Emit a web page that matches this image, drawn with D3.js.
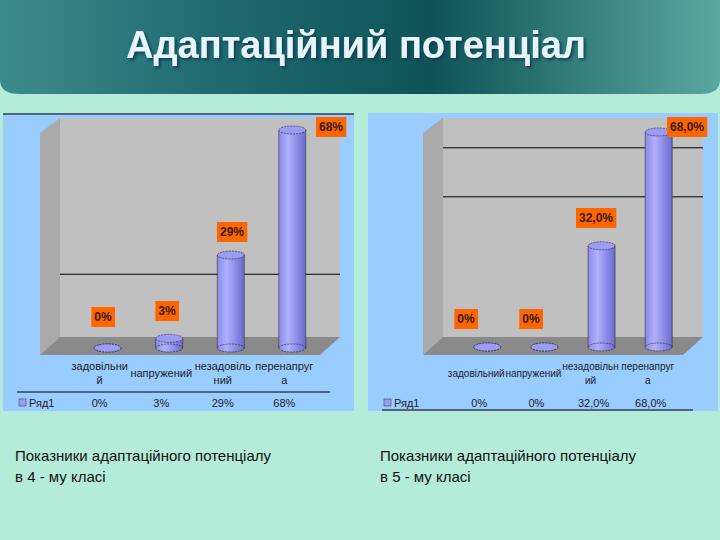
<!DOCTYPE html>
<html><head><meta charset="utf-8">
<script src="https://cdn.jsdelivr.net/npm/d3@7"></script>
<style>body{margin:0;background:#b4ecd9}</style>
</head><body>
<script>
const labels4 = [["задовільни","й"], ["напружений"], ["незадовіль","ний"], ["перенапруг","а"]];
const values4 = [0, 3, 29, 68];
const text4 = ["0%", "3%", "29%", "68%"];
const labels5 = [["задовільний"], ["напружений"], ["незадовільн","ий"], ["перенапруг","а"]];
const values5 = [0, 0, 32, 68];
const text5 = ["0%", "0%", "32,0%", "68,0%"];

const svg = d3.select("body").append("svg").attr("width", 720).attr("height", 540);
const defs = svg.append("defs");
const hg = defs.append("linearGradient").attr("id", "hdr").attr("x1", 0).attr("x2", 1);
[["0%","#3d8c8c"],["30%","#1f6a70"],["60%","#0f5358"],["100%","#5aa8a0"]].forEach(s=>hg.append("stop").attr("offset",s[0]).attr("stop-color",s[1]));
const cg = defs.append("linearGradient").attr("id", "cyl").attr("x1", 0).attr("x2", 1);
[["0%","#8a8ae8"],["35%","#b0b0ff"],["100%","#6a6acc"]].forEach(s=>cg.append("stop").attr("offset",s[0]).attr("stop-color",s[1]));
const sh = defs.append("filter").attr("id","shadow").attr("x","-10%").attr("y","-30%").attr("width","120%").attr("height","160%");
sh.append("feDropShadow").attr("dx",2).attr("dy",2).attr("stdDeviation",1.5).attr("flood-color","#0a3a50").attr("flood-opacity",0.9);

// header banner
svg.append("path").attr("d","M0,0 H720 V80 Q720,94 700,94 H20 Q0,94 0,80 Z").attr("fill","url(#hdr)");
svg.append("text").attr("x", 356).attr("y", 58).attr("text-anchor","middle")
  .attr("font-family","Liberation Sans, Arial").attr("font-weight","bold").attr("font-size",38)
  .attr("fill","#e6f6ff").attr("filter","url(#shadow)").text("Адаптаційний потенціал");

function chart(o) {
  const g = svg.append("g");
  g.append("rect").attr("x", o.px).attr("y", 113).attr("width", o.pw).attr("height", 298).attr("fill", "#99ccff");
  const x = d3.scaleBand().domain(o.labels.map((d,i)=>i)).range([o.wx, o.wx2]).padding(0.55);
  const y = d3.scaleLinear().domain([0, 68]).range([o.base, o.top68]);
  g.append("path").attr("d",`M${o.wx-20},133 L${o.wx},118 L${o.wx},337 L${o.wx-20},355 Z`).attr("fill","#aaaaaa");
  g.append("rect").attr("x", o.wx).attr("y", 118).attr("width", o.wx2-o.wx).attr("height", 219).attr("fill","#c0c0c0");
  g.append("path").attr("d",`M${o.wx},337 H${o.wx2} L${o.wx2-20},355 H${o.wx-20} Z`).attr("fill","#8a8a8a");
  o.grid.forEach(v=>g.append("line").attr("x1",o.wx).attr("x2",o.wx2).attr("y1",y(v)).attr("y2",y(v)).attr("stroke","#000"));
  const bw = 27, ry = 4;
  o.values.forEach((v,i)=>{
    const cx = x(i) + x.bandwidth()/2;
    const yt = y(v);
    g.append("rect").attr("x", cx-bw/2).attr("y", yt).attr("width", bw).attr("height", o.base-yt).attr("fill","url(#cyl)");
    g.append("ellipse").attr("cx",cx).attr("cy",o.base).attr("rx",bw/2).attr("ry",ry).attr("fill","url(#cyl)").attr("stroke","#222").attr("stroke-width",0.6).attr("stroke-dasharray","2,1");
    g.append("line").attr("x1",cx-bw/2).attr("x2",cx-bw/2).attr("y1",yt).attr("y2",o.base).attr("stroke","#333").attr("stroke-width",0.6);
    g.append("line").attr("x1",cx+bw/2).attr("x2",cx+bw/2).attr("y1",yt).attr("y2",o.base).attr("stroke","#333").attr("stroke-width",0.6);
    g.append("ellipse").attr("cx",cx).attr("cy",yt).attr("rx",bw/2).attr("ry",ry).attr("fill","#9c9cf4").attr("stroke","#222").attr("stroke-width",0.6).attr("stroke-dasharray","2,1");
    const lx = o.labPos[i][0], ly = o.labPos[i][1];
    const t = g.append("text").attr("x", lx).attr("y", ly).attr("text-anchor","middle")
      .attr("font-family","Liberation Sans, Arial").attr("font-weight","bold").attr("font-size",12).attr("fill","#3a1a00").text(o.text[i]);
    const b = t.node().getBBox();
    g.insert("rect", () => t.node()).attr("x", b.x-3).attr("y", b.y-3).attr("width", b.width+6).attr("height", b.height+6).attr("fill","#ff6600");
    const lines = o.labels[i];
    lines.forEach((s,k)=>g.append("text").attr("x", cx + o.labOff).attr("y", (lines.length>1?370:377) + k*14)
      .attr("text-anchor","middle").attr("font-family","Liberation Sans, Arial").attr("font-size",o.fs).attr("fill","#222").text(s));
    g.append("text").attr("x", cx - 8).attr("y", 407).attr("text-anchor","middle")
      .attr("font-family","Liberation Sans, Arial").attr("font-size",11).attr("fill","#222").text(o.text[i]);
  });
  g.append("rect").attr("x", o.px+16).attr("y", 399).attr("width", 7).attr("height", 7).attr("fill","#9c9cf4").attr("stroke","#333").attr("stroke-width",0.5);
  g.append("text").attr("x", o.px+26).attr("y", 407).attr("font-family","Liberation Sans, Arial").attr("font-size",11).attr("fill","#222").text("Ряд1");
  g.append("line").attr("x1", o.px+14).attr("x2", o.wx2-10).attr("y1", o.tableLine).attr("y2", o.tableLine).attr("stroke","#000");
  if (o.topLine) g.append("line").attr("x1", o.px).attr("x2", o.px+o.pw).attr("y1", 114).attr("y2", 114).attr("stroke","#000");
  g.append("text").attr("x", o.px+12).attr("y", 461).attr("font-family","Liberation Sans, Arial").attr("font-size",15).attr("fill","#111").text(o.cap1);
  g.append("text").attr("x", o.px+12).attr("y", 482).attr("font-family","Liberation Sans, Arial").attr("font-size",15).attr("fill","#111").text(o.cap2);
}

chart({px:3, pw:351, wx:60, wx2:340, base:348, top68:130, values:values4, text:text4, labels:labels4, grid:[23],
  labPos:[[103,321],[167,315],[232,236],[331,131]], tableLine:392, topLine:true, labOff:-8, fs:11,
  cap1:"Показники адаптаційного потенціалу", cap2:"в 4 - му класі"});
chart({px:368, pw:350, wx:443, wx2:703, base:347, top68:132, values:values5, text:text5, labels:labels5, grid:[63,47.5],
  labPos:[[466,323],[531,323],[596,222],[687,131]], tableLine:410, topLine:false, labOff:-11, fs:10,
  cap1:"Показники адаптаційного потенціалу", cap2:"в 5 - му класі"});
</script>
</body></html>
